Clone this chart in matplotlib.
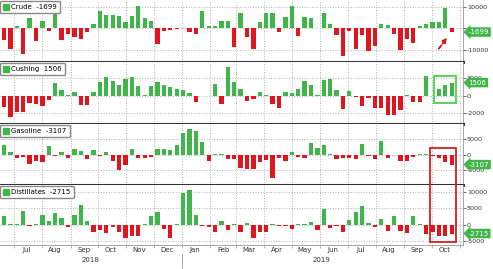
import datetime as dt
import numpy as np
import matplotlib.pyplot as plt
import matplotlib.dates as mdates
import matplotlib.transforms as mtrans
from matplotlib.lines import Line2D
from matplotlib.patches import Rectangle

# weekly EIA inventory changes (kb), report weeks
dates = [dt.date(2018, 6, 20) + dt.timedelta(weeks=i) for i in range(71)]

crude = [-5500, -9500, 1300, -12000, 4800, -5900, 3700, -1100, 6800, -5600,
         -2400, -4000, -5100, -1900, 2100, 8000, 6400, 6400, 6000, 3200,
         5900, 10300, 4800, 3700, -7200, -1100, -500, -200, 100, -1600,
         -2700, 8000, 1100, 1100, 3700, 3700, -8700, 7200, -4000, -9600,
         2900, 7200, 7200, -1600, 5500, 10300, -3700, 5200, 4700, 100,
         7200, 2000, -3300, -12800, -1200, -9600, -3300, -10700, -8400, 2300,
         1500, -2800, -10100, -4900, -7000, 1000, 2300, 3100, 3100, 9500, -1699]

cushing = [-1370, -2500, -1900, -1900, -860, -940, -1200, -550, 1480, 700,
           60, 430, -1130, -1130, 390, 1520, 2180, 1680, 1210, 1870,
           2180, 1090, 100, 1090, 1600, 1210, 1010, 820, 700, 310,
           -740, -60, -60, 1330, -940, 3280, 1520, 820, -620, -430,
           470, 80, -1020, -1410, 430, 350, 750, 1730, 1250, 60,
           1840, 1960, 670, -1610, 590, -200, -1220, -310, -1490, -1490,
           -2270, -2270, -1690, 60, -710, -710, 2240, -60, 750, 1250, 1506]

gasoline = [3100, 1100, -900, -550, -2800, -2000, -2200, 3000, -330, 1100,
            -1100, 1900, 1300, -1300, 1700, -200, 1100, -1900, -4800, -3100,
            2000, -1100, -1100, -550, 2000, 2000, 1700, 3100, 7200, 8300,
            7800, 4200, -2000, 200, 200, -1400, -1400, -4100, -4400, -4400,
            -2400, -1700, -7400, -1100, -2000, 800, -550, -900, 3900, 2400,
            3300, 300, -1300, -1100, -1100, -1300, 3600, -200, -1400, 4400,
            -1100, 100, -1900, -2000, -700, 300, 200, -200, -1100, -2400, -3107]

distillates = [2800, 200, 100, 4200, -300, 100, 2900, 1250, 3600, 1900,
               -700, 3100, 6200, 1000, -2100, -1600, -2600, -800, -2100, -4000,
               -3600, -3600, 100, 2600, 3800, -1400, -4200, 100, 9600, 10600,
               2900, -500, -800, -2300, 1250, -1600, 200, -2100, 500, -4000,
               -2100, -2100, 200, -300, -500, -1400, 100, 100, 800, -1600,
               4700, -1000, -500, -2300, 1350, 3800, 5700, 500, -800, 1600,
               -1900, 2600, -1900, -2600, 2600, 200, -2900, -2100, -3600, -3600, -2715]

names = ['Crude', 'Cushing', 'Gasoline', 'Distillates']
series = [crude, cushing, gasoline, distillates]
ylims = [(-15700, 13300), (-3300, 3900), (-9700, 10000), (-6250, 12200)]
yticks = [[-10000, 0, 10000], [-2000, 0, 2000], [-5000, 0, 5000], [-5000, 0, 5000, 10000]]
ylabels = [['-10000', '', '10000'], ['-2000', '0', '2000'],
           ['-5000', '0', '5000'], ['-5000', '0', '5000', '10000']]
# panel pixel spans (top, bottom)
spans = [(0, 62), (62, 124), (124, 185), (185, 245)]

GREEN = '#3fb54a'
RED = '#e1151e'
W, H = 493, 269

fig = plt.figure(figsize=(W / 100, H / 100), dpi=100)
xlo = mdates.date2num(dt.datetime(2018, 6, 15, 14))
xhi = mdates.date2num(dt.datetime(2019, 11, 4, 10))

axes = []
for k in range(4):
    t, b = spans[k]
    ax = fig.add_axes([0, 1 - b / H, 463 / W, (b - t) / H])
    vals = np.array(series[k])
    cols = [GREEN if v >= 0 else RED for v in vals]
    ax.bar(dates, vals, width=4.7, color=cols, zorder=2)
    ax.set_xlim(xlo, xhi)
    ax.set_ylim(*ylims[k])
    ax.set_yticks(yticks[k])
    ax.set_yticklabels(ylabels[k])
    ax.yaxis.tick_right()
    ax.tick_params(axis='y', labelsize=4.6, colors='#333333', length=2, width=0.5, pad=0.8)
    ax.xaxis.set_major_locator(mdates.MonthLocator())
    ax.grid(True, which='major', linestyle=':', color='#b0b0b0', linewidth=0.7, zorder=0)
    ax.set_axisbelow(True)
    for s in ['left', 'top']:
        ax.spines[s].set_visible(False)
    ax.spines['right'].set_color('#999999')
    ax.spines['right'].set_linewidth(0.6)
    if k < 3:
        ax.spines['bottom'].set_color('#333333')
        ax.spines['bottom'].set_linewidth(2.2)
        ax.tick_params(axis='x', which='both', length=0, labelbottom=False)
    else:
        ax.spines['bottom'].set_color('#999999')
        ax.spines['bottom'].set_linewidth(0.6)
    last = vals[-1]
    h = [Line2D([], [], marker='s', ls='', color=GREEN, markersize=4.5)]
    leg = ax.legend(h, ['%s  %d' % (names[k], last)], loc='upper left',
                    bbox_to_anchor=(0.0, 0.985), borderaxespad=0, fontsize=5,
                    handlelength=0.7, handletextpad=0.5, borderpad=0.45,
                    fancybox=True, edgecolor='#888888', framealpha=1)
    leg.set_zorder(5)
    tr = mtrans.blended_transform_factory(ax.transAxes, ax.transData)
    ax.text(1.012, last, '%d' % last, transform=tr, fontsize=5, color='white',
            va='center', ha='left', clip_on=False, zorder=6,
            bbox=dict(boxstyle='larrow,pad=0.25', fc=GREEN, ec='none'))
    axes.append(ax)

ax4 = axes[3]
ax4.xaxis.set_major_formatter(mdates.DateFormatter(''))
ax4.xaxis.set_minor_locator(mdates.MonthLocator(bymonthday=15))
ax4.xaxis.set_minor_formatter(mdates.DateFormatter('%b'))
ax4.tick_params(axis='x', which='major', length=2, width=0.5, color='#999999')
ax4.tick_params(axis='x', which='minor', length=0, labelsize=5, colors='#333333', pad=1.5)
trx = mtrans.blended_transform_factory(ax4.transData, ax4.transAxes)
ax4.text(dt.date(2018, 9, 23), -0.2, '2018', transform=trx, fontsize=5,
         color='#333333', ha='center', va='top')
ax4.text(dt.date(2019, 6, 3), -0.2, '2019', transform=trx, fontsize=5,
         color='#333333', ha='center', va='top')
ax4.plot([dt.date(2019, 1, 1)] * 2, [-0.15, -0.38], transform=trx,
         color='#999999', lw=0.6, clip_on=False)

# call-outs
axes[0].annotate('', xy=(dt.date(2019, 10, 20), -3300),
                 xytext=(dt.date(2019, 10, 7), -10500),
                 arrowprops=dict(arrowstyle='-|>', color=RED, lw=1.4,
                                 linestyle=(0, (2, 1.2)), mutation_scale=6))
axes[1].add_patch(Rectangle((mdates.date2num(dt.date(2019, 10, 4)), -900), 24, 3200,
                            fill=False, ec='#5dd65d', lw=1.5, zorder=4))
fig.patches.append(Rectangle((430 / W, 1 - 242 / H), 26 / W, 94 / H, fill=False,
                             ec='#d81b24', lw=1.3, transform=fig.transFigure,
                             figure=fig, zorder=10))

fig.savefig('out.png', dpi=100)
